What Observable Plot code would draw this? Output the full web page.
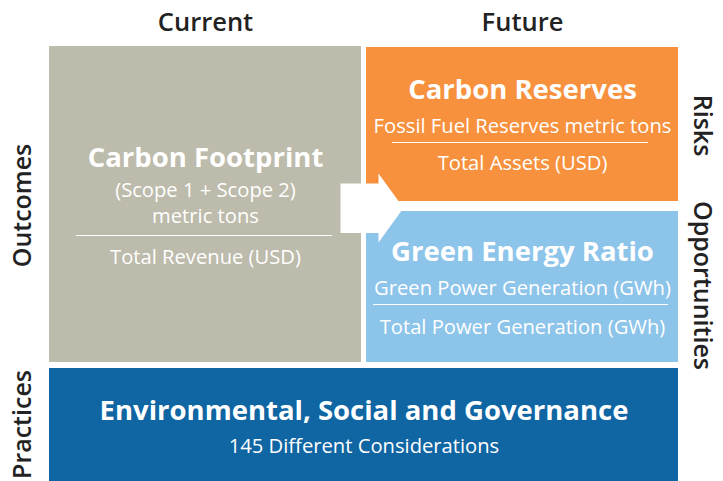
<!DOCTYPE html>
<html>
<head>
<meta charset="utf-8">
<script src="https://cdn.jsdelivr.net/npm/d3@7"></script>
<script src="https://cdn.jsdelivr.net/npm/@observablehq/plot@0.6"></script>
<style>
  html, body { margin: 0; padding: 0; background: #fff; }
  #chart svg { display: block; font-family: "Open Sans", sans-serif; }
</style>
</head>
<body>
<div id="chart"></div>
<script>
// ---- content ----
const columnLabels = ["Current", "Future"];
const leftRowLabels = ["Outcomes", "Practices"];
const rightRowLabels = ["Risks", "Opportunities"];
const boxNames = ["footprint", "reserves", "green", "esg"];
const boxTitles = ["Carbon Footprint", "Carbon Reserves", "Green Energy Ratio", "Environmental, Social and Governance"];
const boxNumerators = [
  ["(Scope 1 + Scope 2)", "metric tons"],
  ["Fossil Fuel Reserves metric tons"],
  ["Green Power Generation (GWh)"],
  ["145 Different Considerations"]
];
const boxDenominators = ["Total Revenue (USD)", "Total Assets (USD)", "Total Power Generation (GWh)", null];
const boxColors = ["#bdbbab", "#f7913e", "#8dc4e9", "#1065a3"];

// ---- layout (diagram geometry, pixel space) ----
const W = 723, H = 481;
const layout = {
  boxes: {
    footprint: {x1: 49, x2: 361, y1: 46, y2: 362, title: 158, lines: [190, 216], rule: {x1: 76, x2: 332, y: 235}, denom: 257},
    reserves:  {x1: 366, x2: 678, y1: 47, y2: 201, title: 90, lines: [126], rule: {x1: 392, x2: 648, y: 142}, denom: 163},
    green:     {x1: 366, x2: 678, y1: 211, y2: 362, title: 252, lines: [288], rule: {x1: 373, x2: 668, y: 304}, denom: 327},
    esg:       {x1: 49, x2: 678, y1: 368, y2: 481, title: 411, lines: [446], rule: null, denom: null}
  },
  columns: [{x: 205, y: 22}, {x: 522, y: 22}],
  left: [{x: 22, y: 205}, {x: 22, y: 424}],
  right: [{x: 701, y: 125}, {x: 701, y: 285}],
  arrow: [[340, 183], [378, 183], [378, 173], [403, 207.5], [378, 242], [378, 232.5], [340, 232.5], [340, 183]]
};

const boxes = boxNames.map((k, i) => ({...layout.boxes[k], name: k, color: boxColors[i], title: boxTitles[i], numer: boxNumerators[i], denom: boxDenominators[i], titleY: layout.boxes[k].title, denomY: layout.boxes[k].denom}));
const cx = b => (b.x1 + b.x2) / 2;

const titleTexts = boxes.map(b => ({x: cx(b), y: b.titleY, text: b.title}));
const numerTexts = boxes.flatMap(b => b.numer.map((t, j) => ({x: cx(b), y: b.lines[j], text: t})));
const denomTexts = boxes.filter(b => b.denom).map(b => ({x: cx(b), y: b.denomY, text: b.denom}));
const rules = boxes.filter(b => b.rule).map(b => b.rule);
const arrowPts = layout.arrow.map(([x, y]) => ({x, y}));

const chart = Plot.plot({
  width: W,
  height: H,
  margin: 0,
  x: {domain: [0, W], range: [0, W], axis: null},
  y: {domain: [0, H], range: [0, H], axis: null},
  style: {fontFamily: "'Open Sans', sans-serif", background: "#fff"},
  marks: [
    Plot.rect(boxes, {x1: "x1", x2: "x2", y1: "y1", y2: "y2", fill: "color"}),
    Plot.line(arrowPts, {x: "x", y: "y", fill: "white", stroke: "none", curve: "linear"}),
    Plot.ruleY(rules, {y: "y", x1: "x1", x2: "x2", stroke: "white", strokeWidth: 1.2}),
    Plot.text(titleTexts, {x: "x", y: "y", text: "text", fill: "white", fontSize: 27.5, fontWeight: 700}),
    Plot.text(numerTexts, {x: "x", y: "y", text: "text", fill: "white", fontSize: 20.2}),
    Plot.text(denomTexts, {x: "x", y: "y", text: "text", fill: "white", fontSize: 20.2}),
    Plot.text(columnLabels, {x: (d, i) => layout.columns[i].x, y: (d, i) => layout.columns[i].y, text: d => d, fill: "#222", fontSize: 25.5, fontWeight: 600}),
    Plot.text(leftRowLabels, {x: (d, i) => layout.left[i].x, y: (d, i) => layout.left[i].y, text: d => d, rotate: -90, fill: "#222", fontSize: 25, fontWeight: 600}),
    Plot.text(rightRowLabels, {x: (d, i) => layout.right[i].x, y: (d, i) => layout.right[i].y, text: d => d, rotate: 90, fill: "#222", fontSize: 25, fontWeight: 600})
  ]
});
document.getElementById("chart").appendChild(chart);
</script>
</body>
</html>
